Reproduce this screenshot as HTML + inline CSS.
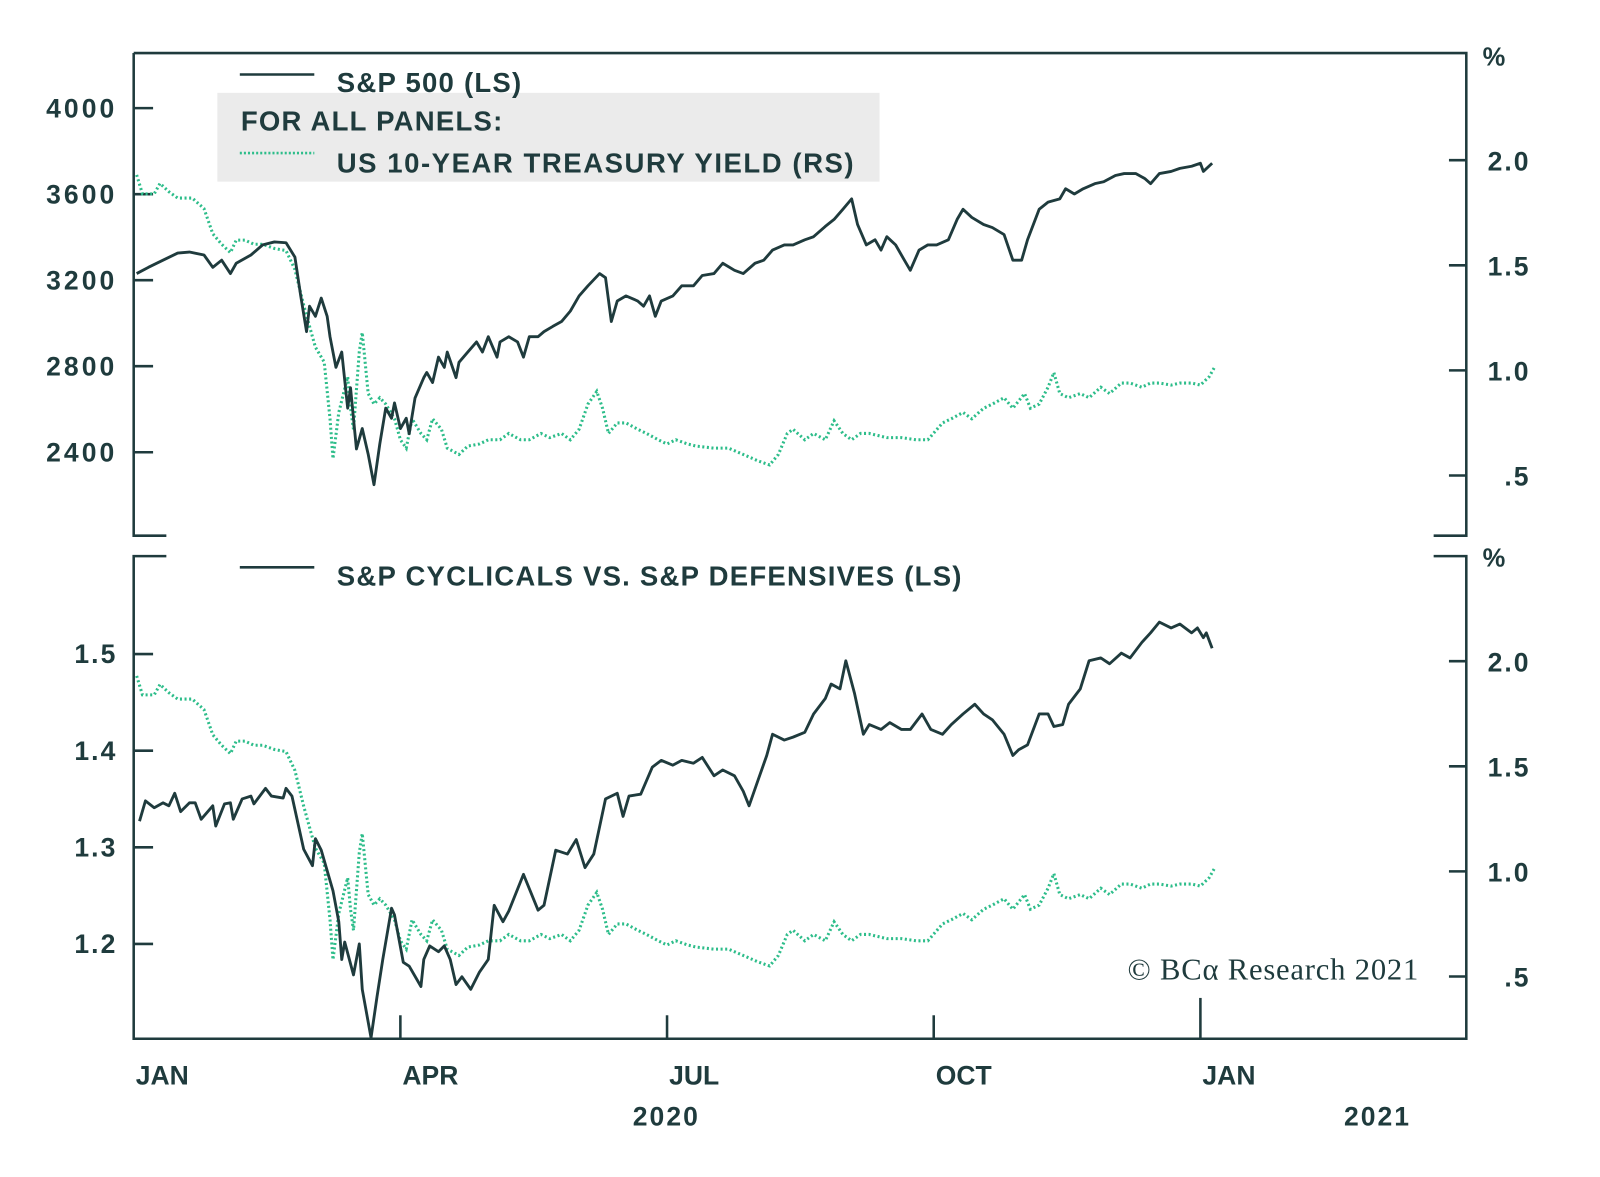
<!DOCTYPE html>
<html><head><meta charset="utf-8">
<style>
html,body{margin:0;padding:0;background:#fff;}
svg{display:block;}
text{font-family:"Liberation Sans",sans-serif;font-weight:bold;fill:#1f3b3d;}
</style></head>
<body>
<svg id="chart" width="1600" height="1177" viewBox="0 0 1568 1153.5">
  <g id="frame" stroke="#1f3b3d" stroke-width="2.5" fill="none">
    <path d="M131 52 H1437 V525 H1405 M131 52 V525 H163"/>
    <path d="M163 545 H131 V1018 H1437 V545 H1405"/>
  </g>
  <g id="axes"></g>
  <g id="series"></g>
  <g id="legend">
    <rect x="213" y="91" width="649" height="87" fill="#ebebeb"/>
    <line x1="235" y1="73" x2="308" y2="73" stroke="#1f3b3d" stroke-width="2.5"/>
    <text x="330" y="90" font-size="27" letter-spacing="1.2">S&amp;P 500 (LS)</text>
    <text x="236" y="128" font-size="27" letter-spacing="1.2">FOR ALL PANELS:</text>
    <line x1="235" y1="150" x2="308" y2="150" stroke="#2dbd8a" stroke-width="2.5" stroke-dasharray="2 2"/>
    <text x="330" y="169" font-size="27" letter-spacing="1.5">US 10-YEAR TREASURY YIELD (RS)</text>
    <line x1="235" y1="556" x2="308" y2="556" stroke="#1f3b3d" stroke-width="2.5"/>
    <text x="330" y="574" font-size="27" letter-spacing="1.2">S&amp;P CYCLICALS VS. S&amp;P DEFENSIVES (LS)</text>
  </g>
  <text x="1453" y="64" font-size="25">%</text>
  <text x="1453" y="555" font-size="25">%</text>
  <text x="1105" y="960" font-size="30" textLength="285" style="font-family:'Liberation Serif',serif;font-weight:normal">© BCα Research 2021</text>
</svg>
<script>
// ---- data ----
const spDays = [1,5,10,15,19,24,27,30,33,35,40,44,48,52,55,57,59,60,62,64,66,67,69,71,73,74,76,78,80,82,84,86,88,89,91,93,94,96,99,100,102,104,106,107,110,111,114,117,119,121,124,125,128,131,133,135,138,140,143,146,149,152,155,159,161,163,165,168,172,174,176,178,180,184,187,191,194,198,201,205,208,212,215,218,222,225,229,232,236,239,242,245,247,250,253,255,257,260,263,265,268,271,274,278,281,283,286,290,293,297,300,303,305,309,312,316,318,321,324,328,331,335,338,342,345,347,350,354,357,361,364,365,368];
const spValues = [3231,3260,3293,3326,3331,3317,3260,3293,3231,3279,3317,3364,3378,3374,3307,3127,2961,3079,3032,3117,3032,2937,2795,2866,2605,2700,2415,2510,2391,2249,2439,2605,2558,2629,2510,2558,2486,2652,2747,2771,2724,2842,2795,2866,2747,2818,2866,2913,2866,2937,2842,2913,2937,2913,2842,2937,2937,2961,2985,3008,3056,3127,3174,3231,3212,3008,3103,3127,3103,3079,3127,3032,3103,3127,3174,3174,3222,3231,3279,3246,3231,3279,3293,3340,3364,3364,3388,3402,3450,3483,3530,3578,3459,3364,3388,3340,3402,3364,3293,3246,3340,3364,3364,3388,3483,3530,3492,3459,3445,3412,3293,3293,3388,3530,3563,3578,3625,3601,3625,3649,3658,3687,3696,3696,3673,3649,3696,3706,3720,3730,3744,3706,3744];
const yDays = [1,3,7,9,12,15,20,24,27,30,33,35,38,41,44,48,52,55,58,60,62,65,67,68,70,73,74,75,77,78,80,82,84,86,89,91,93,95,98,100,102,105,107,111,114,118,121,125,128,132,135,139,142,146,149,152,155,158,160,162,165,168,172,175,179,182,185,189,192,198,203,208,213,217,220,223,225,229,232,236,239,242,245,248,251,257,262,267,271,276,279,283,286,290,293,297,300,304,306,309,312,314,316,319,323,326,330,333,337,340,344,347,350,354,357,361,364,367,369];
const yValues = [1.93,1.84,1.84,1.89,1.85,1.82,1.82,1.77,1.65,1.60,1.56,1.62,1.62,1.60,1.60,1.58,1.57,1.48,1.31,1.21,1.11,1.04,0.77,0.58,0.80,0.97,0.82,0.72,1.09,1.18,0.89,0.84,0.87,0.84,0.77,0.67,0.63,0.77,0.70,0.67,0.77,0.72,0.63,0.60,0.64,0.65,0.67,0.67,0.70,0.67,0.67,0.70,0.68,0.70,0.67,0.72,0.84,0.90,0.82,0.70,0.75,0.75,0.72,0.70,0.67,0.65,0.67,0.65,0.64,0.63,0.63,0.60,0.57,0.55,0.60,0.70,0.72,0.67,0.70,0.67,0.76,0.70,0.67,0.70,0.70,0.68,0.68,0.67,0.67,0.75,0.77,0.80,0.77,0.82,0.84,0.87,0.82,0.89,0.82,0.84,0.92,0.99,0.89,0.87,0.89,0.87,0.92,0.89,0.94,0.94,0.92,0.94,0.94,0.93,0.94,0.94,0.93,0.97,1.02];
const cDays = [2,4,7,10,12,14,16,19,21,23,27,28,31,33,34,37,40,41,45,47,51,52,54,58,61,62,64,68,70,71,72,75,77,78,81,83,85,88,89,92,94,98,99,101,104,106,108,110,112,115,118,121,123,126,128,133,138,140,144,148,151,154,157,161,165,167,169,173,177,180,184,187,191,194,198,201,205,208,210,213,216,218,222,225,229,232,236,238,241,243,246,249,251,255,258,262,265,269,272,276,279,283,287,290,293,297,300,302,305,309,312,314,317,319,323,326,330,333,337,340,344,347,350,354,357,361,363,365,366,368];
const cValues = [1.327,1.348,1.341,1.346,1.343,1.356,1.337,1.346,1.346,1.329,1.343,1.322,1.345,1.346,1.329,1.350,1.353,1.345,1.361,1.353,1.351,1.361,1.353,1.298,1.281,1.309,1.297,1.255,1.223,1.184,1.202,1.168,1.200,1.153,1.103,1.145,1.184,1.237,1.230,1.181,1.177,1.156,1.184,1.198,1.192,1.198,1.184,1.158,1.166,1.153,1.171,1.184,1.240,1.223,1.234,1.272,1.235,1.240,1.297,1.293,1.308,1.279,1.293,1.350,1.356,1.332,1.353,1.355,1.383,1.390,1.385,1.390,1.387,1.393,1.374,1.380,1.374,1.358,1.343,1.369,1.395,1.417,1.411,1.414,1.419,1.438,1.454,1.469,1.464,1.493,1.459,1.417,1.427,1.422,1.429,1.422,1.422,1.438,1.422,1.417,1.427,1.438,1.448,1.438,1.432,1.417,1.395,1.401,1.406,1.438,1.438,1.425,1.427,1.448,1.464,1.493,1.496,1.490,1.501,1.496,1.512,1.522,1.533,1.527,1.531,1.522,1.527,1.517,1.522,1.506];
const spTicks = [2400,2800,3200,3600,4000];
const yTicksTop = [0.5,1.0,1.5,2.0];
const yTickLabels = [".5","1.0","1.5","2.0"];
const cTicks = [1.2,1.3,1.4,1.5];
const monthDays = [0,91,182,273,364];
const monthLabels = ["JAN","APR","JUL","OCT","JAN"];

// ---- scales ----
const NS = "http://www.w3.org/2000/svg";
const xS = d => 131 + d * 2.872;
const spY = v => 106 + (4000 - v) * 84.3 / 400;
const yTopY = v => 157 + (2.0 - v) * 206;
const yBotY = v => 648 + (2.0 - v) * 206;
const cY = v => 641 + (1.5 - v) * 947;

function mk(tag, attrs, parent){
  const e = document.createElementNS(NS, tag);
  for (const k in attrs) e.setAttribute(k, attrs[k]);
  parent.appendChild(e);
  return e;
}
const axes = document.getElementById('axes');
const series = document.getElementById('series');
const dark = "#1f3b3d";

spTicks.forEach(v => {
  const y = spY(v);
  const t = mk('line', {x1:131, x2:150, y1:y, y2:y, stroke:dark, 'stroke-width':2.5}, axes);
  
  
  const l = mk('text', {x:115, y:y+9, 'font-size':26, 'letter-spacing':3, 'text-anchor':'end'}, axes);
  l.textContent = v;
  
  
});
[yTopY, yBotY].forEach((sc, pi) => {
  yTicksTop.forEach((v, i) => {
    const y = sc(v);
    const t = mk('line', {x1:1420, x2:1437, y1:y, y2:y, stroke:dark, 'stroke-width':2.5}, axes);
    
    
    const l = mk('text', {x:1500, y:y+10, 'font-size':26, 'letter-spacing':2, 'text-anchor':'end'}, axes);
    l.textContent = yTickLabels[i];
    
    
  });
});
cTicks.forEach(v => {
  const y = cY(v);
  const t = mk('line', {x1:131, x2:150, y1:y, y2:y, stroke:dark, 'stroke-width':2.5}, axes);
  
  
  const l = mk('text', {x:115, y:y+9, 'font-size':26, 'letter-spacing':2, 'text-anchor':'end'}, axes);
  l.textContent = v.toFixed(1);
  
  
});
monthDays.forEach((d, i) => {
  const x = xS(d);
  if (i > 0) {
    const t = mk('line', {x1:x, x2:x, y1:1018, y2:(i===4?978:995), stroke:dark, 'stroke-width':2.5}, axes);
    
    
  }
  const l = mk('text', {x:x+2, y:1063, 'font-size':26}, axes);
  l.textContent = monthLabels[i];
  
  
});
const y20 = mk('text', {x:653, y:1103, 'font-size':26, 'letter-spacing':2, 'text-anchor':'middle'}, axes);
y20.textContent = '2020';


const y21 = mk('text', {x:1350, y:1103, 'font-size':26, 'letter-spacing':2, 'text-anchor':'middle'}, axes);
y21.textContent = '2021';



function pathD(days, vals, sc){
  return days.map((d, i) => (i ? 'L' : 'M') + xS(d).toFixed(1) + ' ' + sc(vals[i]).toFixed(1)).join(' ');
}
const g1 = mk('path', {d:pathD(yDays, yValues, yTopY), fill:'none', stroke:'#2dbd8a', 'stroke-width':3, 'stroke-dasharray':'2 2.5'}, series);


const s1 = mk('path', {d:pathD(spDays, spValues, spY), fill:'none', stroke:dark, 'stroke-width':2.8, 'stroke-linejoin':'round'}, series);


const g2 = mk('path', {d:pathD(yDays, yValues, yBotY), fill:'none', stroke:'#2dbd8a', 'stroke-width':3, 'stroke-dasharray':'2 2.5'}, series);


const c1 = mk('path', {d:pathD(cDays, cValues, cY), fill:'none', stroke:dark, 'stroke-width':2.8, 'stroke-linejoin':'round'}, series);


</script>
</body></html>
